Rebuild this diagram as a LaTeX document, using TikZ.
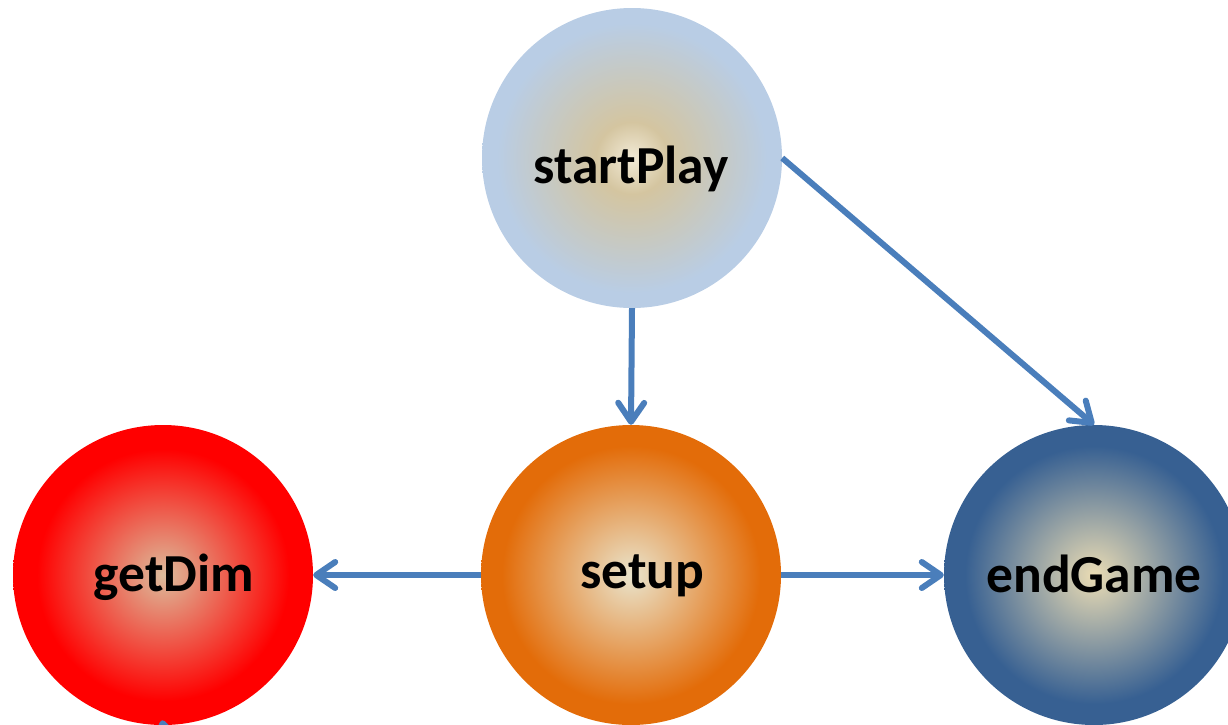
\documentclass[tikz,border=0pt]{standalone}
\usepackage{fontspec}
\setmainfont{Carlito}
\usetikzlibrary{arrows.meta}

\definecolor{link}{HTML}{4A7EBB}
% centre and rim colours of the four state discs
\definecolor{playIn}{HTML}{F2EAD6}
\definecolor{playMid}{HTML}{D4C5A0}
\definecolor{playOut}{HTML}{B9CDE5}
\definecolor{setIn}{HTML}{E9E4CC}
\definecolor{setOut}{HTML}{E36C09}
\definecolor{dimIn}{HTML}{DCBC9C}
\definecolor{dimOut}{HTML}{FF0000}
\definecolor{endIn}{HTML}{EADCB4}
\definecolor{endOut}{HTML}{376092}

% the disc rim sits at about 25bp of the shading square
\pgfdeclareradialshading{playshade}{\pgfpoint{0bp}{0bp}}{%
  color(0bp)=(playIn); color(6bp)=(playMid); color(22.5bp)=(playOut); color(50bp)=(playOut)}
\pgfdeclareradialshading{setshade}{\pgfpoint{0bp}{0bp}}{%
  color(0bp)=(setIn); color(21.5bp)=(setOut); color(50bp)=(setOut)}
\pgfdeclareradialshading{dimshade}{\pgfpoint{0bp}{0bp}}{%
  color(0bp)=(dimIn); color(21bp)=(dimOut); color(50bp)=(dimOut)}
\pgfdeclareradialshading{endshade}{\pgfpoint{0bp}{0bp}}{%
  color(0bp)=(endIn); color(21.5bp)=(endOut); color(50bp)=(endOut)}

\tikzset{
  state/.style={circle, minimum size=300pt, inner sep=0pt, draw=none},
  lbl/.style={anchor=base, inner sep=0pt, font=\fontsize{53.5}{60}\selectfont\bfseries},
  link/.style={draw=link, line width=6pt,
    -{Straight Barb[length=19pt, width=26pt, line cap=round, line join=round]}},
}

\begin{document}
\begin{tikzpicture}[x=1pt, y=-1pt]
\useasboundingbox (0,0) rectangle (1228,724);

% states
\node[state, shading=playshade] (sp) at (632,158) {};
\node[state, shading=setshade]  (su) at (631,575) {};
\node[state, shading=dimshade]  (gd) at (163,575) {};
\node[state, shading=endshade]  (eg) at (1094,575) {};

% state names
\node[lbl] (spt) at (631,183) {startPlay};
\node[lbl] (sut) at (642,588) {setup};
\node[lbl] (gdt) at (174,591) {getDim};
\node[lbl] (egt) at (1094,592) {endGame};

% transitions
\draw[link] (sp.east) -- (eg.north);
\draw[link] (sp.south) -- (su.north);
\draw[link] (su.west) -- (gd.east);
\draw[link] (su.east) -- (eg.west);
\coordinate (below) at (176,800);
\draw[link, shorten >=-5pt] (below) -- (gd.south);
\end{tikzpicture}
\end{document}
